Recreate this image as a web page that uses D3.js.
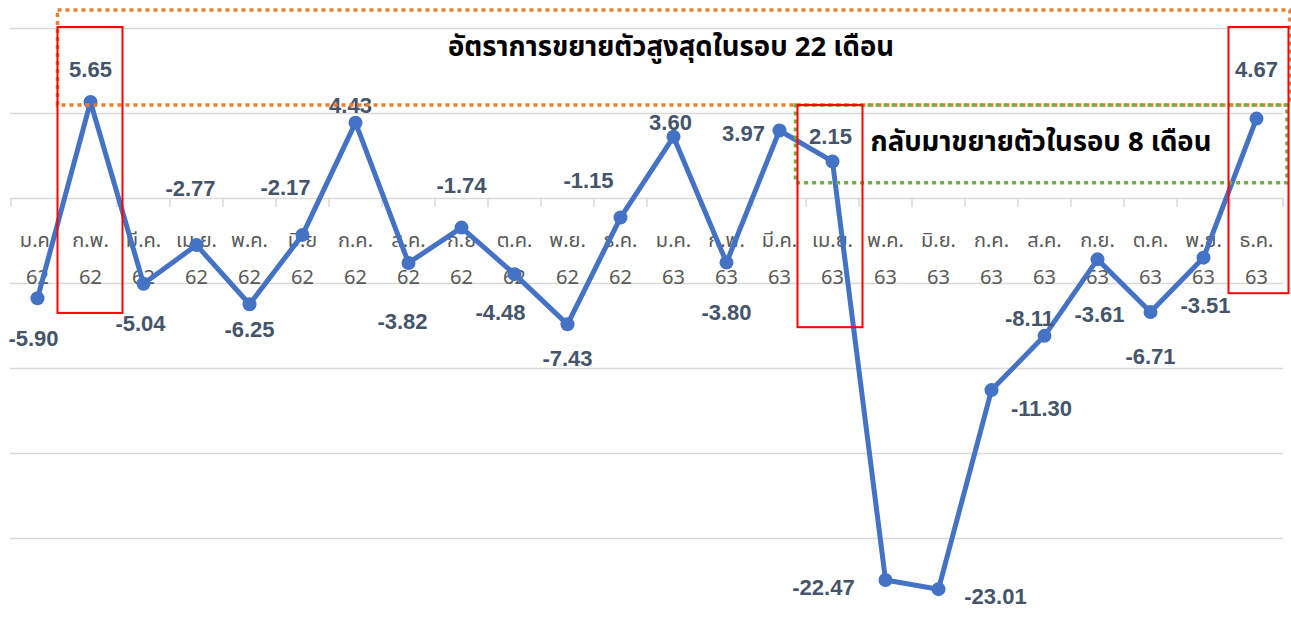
<!DOCTYPE html>
<html>
<head>
<meta charset="utf-8">
<script src="https://cdn.jsdelivr.net/npm/d3@7"></script>
<style>
  body { margin: 0; background: #fff; }
  svg { display: block; }
</style>
</head>
<body>
<div id="chart"></div>
<script>
// monthly growth rate, Jan 2019 (62) - Dec 2020 (63)
var months = ['ม.ค.', 'ก.พ.', 'มี.ค.', 'เม.ย.', 'พ.ค.', 'มิ.ย', 'ก.ค.', 'ส.ค.', 'ก.ย', 'ต.ค.', 'พ.ย.', 'ธ.ค.',
              'ม.ค.', 'ก.พ.', 'มี.ค.', 'เม.ย.', 'พ.ค.', 'มิ.ย.', 'ก.ค.', 'ส.ค.', 'ก.ย.', 'ต.ค.', 'พ.ย.', 'ธ.ค.'];
var years = ['62', '62', '62', '62', '62', '62', '62', '62', '62', '62', '62', '62',
             '63', '63', '63', '63', '63', '63', '63', '63', '63', '63', '63', '63'];
var values = [-5.90, 5.65, -5.04, -2.77, -6.25, -2.17, 4.43, -3.82, -1.74, -4.48, -7.43, -1.15,
              3.60, -3.80, 3.97, 2.15, -22.47, -23.01, -11.30, -8.11, -3.61, -6.71, -3.51, 4.67];
var yTicks = [-20, -15, -10, -5, 0, 5, 10];

// where each data label sits relative to its point (px)
var labelOffsets = [[-4, 40], [0, -32], [-3, 40], [-6, -57], [0, 25], [-17, -47], [-5, -17], [-6, 59],
                    [0, -42], [-14, 38], [0, 34], [-32, -37], [-3, -14], [0, 50], [-36, 3], [-2, -25],
                    [-62, 8], [57, 7], [50, 18], [-15, -17], [2, 55], [0, 44], [2, 48], [0, -49]];

var width = 1291, height = 619;
var thaiFont = "Tahoma, 'Leelawadee UI', 'Noto Sans Thai', 'Noto Sans', sans-serif";

var svg = d3.select("#chart")
  .append("svg")
  .attr("width", width)
  .attr("height", height);

var idx = d3.range(values.length);

var x = d3.scaleBand()
  .domain(idx)
  .range([11, 1283]);

var y = d3.scaleLinear()
  .domain([-25, 10])
  .range([623, 28]);

function cx(i) { return x(i) + x.bandwidth() / 2; }

// horizontal gridlines
var grid = svg.append("g")
  .attr("transform", "translate(10,0)")
  .call(d3.axisLeft(y).tickValues(yTicks).tickSize(-1273).tickFormat(""));
grid.select(".domain").remove();
grid.selectAll(".tick line")
  .attr("stroke", "#d9d9d9")
  .attr("stroke-width", 1.5);

// small ticks on the zero line at category boundaries
svg.append("g")
  .selectAll("line")
  .data(d3.range(values.length + 1))
  .enter().append("line")
  .attr("x1", function(d) { return x.range()[0] + d * x.bandwidth(); })
  .attr("x2", function(d) { return x.range()[0] + d * x.bandwidth(); })
  .attr("y1", y(0))
  .attr("y2", y(0) + 9)
  .attr("stroke", "#d9d9d9")
  .attr("stroke-width", 1.5);

// category labels (month / year), hanging under the zero line
var cat = svg.append("g")
  .selectAll("text")
  .data(idx)
  .enter().append("text")
  .attr("text-anchor", "middle")
  .style("font-family", thaiFont)
  .style("font-size", "20px")
  .style("fill", "#595959");
cat.append("tspan")
  .attr("x", cx)
  .attr("y", y(0) + 49)
  .text(function(d) { return months[d]; });
cat.append("tspan")
  .attr("x", cx)
  .attr("y", y(0) + 86)
  .text(function(d) { return years[d]; });

// the line and its markers
var line = d3.line()
  .x(cx)
  .y(function(d) { return y(values[d]); });

svg.append("path")
  .datum(idx)
  .attr("d", line)
  .attr("fill", "none")
  .attr("stroke", "#4472c4")
  .attr("stroke-width", 5)
  .attr("stroke-linejoin", "round");

svg.append("g")
  .selectAll("circle")
  .data(idx)
  .enter().append("circle")
  .attr("cx", cx)
  .attr("cy", function(d) { return y(values[d]); })
  .attr("r", 7)
  .attr("fill", "#4472c4");

// data labels
svg.append("g")
  .selectAll("text")
  .data(idx)
  .enter().append("text")
  .attr("x", function(d) { return cx(d) + labelOffsets[d][0]; })
  .attr("y", function(d) { return y(values[d]) + labelOffsets[d][1]; })
  .attr("text-anchor", "middle")
  .attr("dominant-baseline", "central")
  .style("font-family", "'Liberation Sans', Arial, sans-serif")
  .style("font-weight", "bold")
  .style("font-size", "22px")
  .style("fill", "#44546a")
  .text(function(d) { return values[d].toFixed(2); });

// annotation boxes
svg.append("rect")
  .attr("x", cx(1) - 33).attr("y", 10)
  .attr("width", 1290 - (cx(1) - 33)).attr("height", y(5.47) - 10)
  .attr("fill", "none").attr("stroke", "#ed7d31")
  .attr("stroke-width", 3.5).attr("stroke-dasharray", "4,4");

svg.append("rect")
  .attr("x", cx(15) - 37).attr("y", y(5.47))
  .attr("width", 1287 - (cx(15) - 37)).attr("height", y(0.9) - y(5.47))
  .attr("fill", "none").attr("stroke", "#70ad47")
  .attr("stroke-width", 3.5).attr("stroke-dasharray", "4,4");

var redBoxes = [[1, 10.06, -6.76, 33, 32], [15, 5.47, -7.6, 35, 30], [23, 10.06, -5.6, 28, 32]];
svg.append("g")
  .selectAll("rect")
  .data(redBoxes)
  .enter().append("rect")
  .attr("x", function(d) { return cx(d[0]) - d[3]; })
  .attr("y", function(d) { return y(d[1]); })
  .attr("width", function(d) { return d[3] + d[4]; })
  .attr("height", function(d) { return y(d[2]) - y(d[1]); })
  .attr("fill", "none")
  .attr("stroke", "#ff0000")
  .attr("stroke-width", 2);

svg.append("text")
  .attr("x", 671).attr("y", 47)
  .attr("text-anchor", "middle")
  .attr("dominant-baseline", "central")
  .style("font-family", thaiFont)
  .style("font-weight", "bold")
  .style("font-size", "27.5px")
  .style("fill", "#000")
  .text("อัตราการขยายตัวสูงสุดในรอบ 22 เดือน");

svg.append("text")
  .attr("x", 1041).attr("y", 142)
  .attr("text-anchor", "middle")
  .attr("dominant-baseline", "central")
  .style("font-family", thaiFont)
  .style("font-weight", "bold")
  .style("font-size", "27.5px")
  .style("fill", "#000")
  .text("กลับมาขยายตัวในรอบ 8 เดือน");
</script>
</body>
</html>
